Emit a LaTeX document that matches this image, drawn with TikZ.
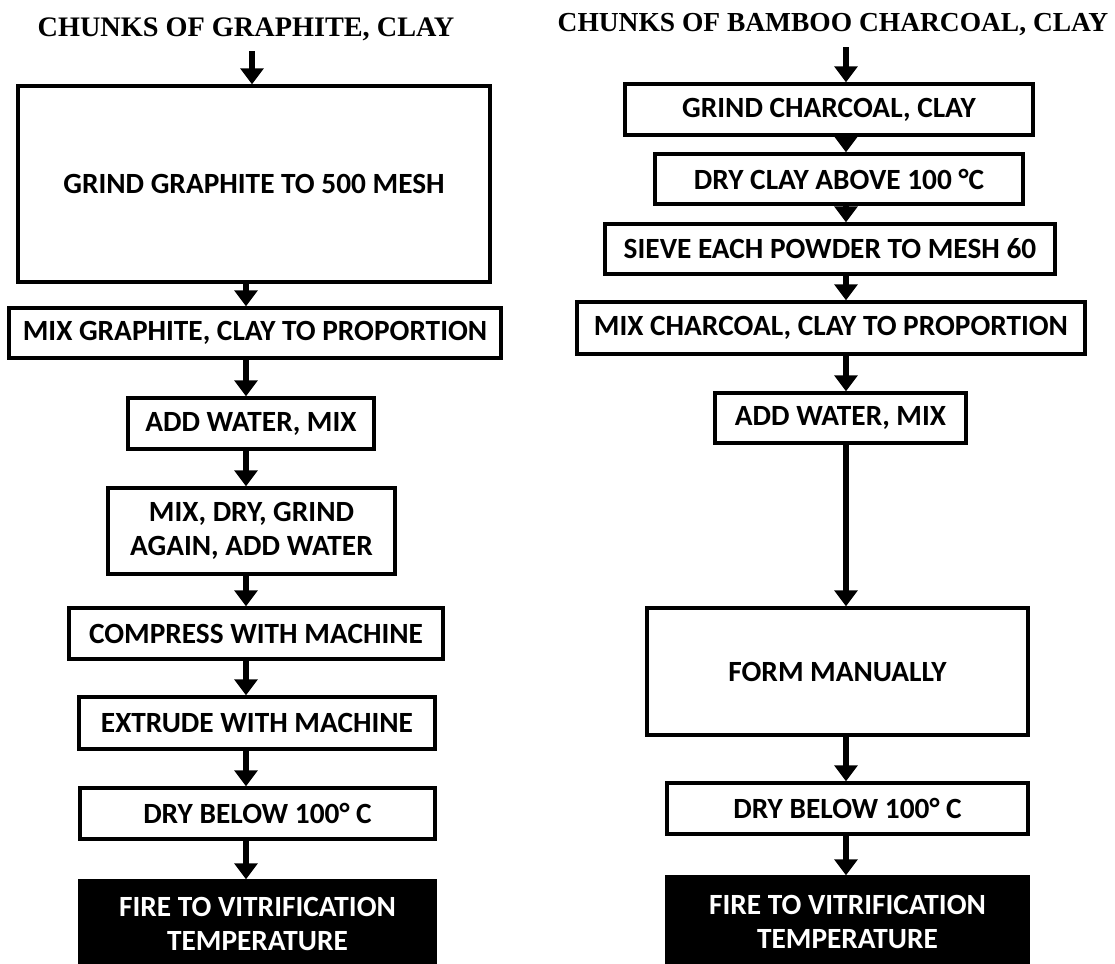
\documentclass[tikz,border=0pt]{standalone}
\usepackage{fontspec}
\setmainfont{Carlito}
\newfontfamily\titlefont{Liberation Serif}
\usetikzlibrary{arrows.meta}
\tikzset{
  box/.style={draw=black, line width=2.5pt, fill=white, inner sep=0pt, align=center,
    font=\bfseries\fontsize{22}{26}\selectfont},
  firebox/.style={box, fill=black, text=white},
  ttl/.style={inner sep=0pt, font=\titlefont\bfseries\fontsize{21.2}{24}\selectfont},
  ttlr/.style={ttl, font=\titlefont\bfseries\fontsize{20.6}{24}\selectfont},
  arr/.style={line width=4.2pt, -{Triangle[width=17pt,length=12pt]}},
}
\begin{document}
\begin{tikzpicture}[x=0.75pt,y=-0.75pt]
\useasboundingbox (0,0) rectangle (1115,964);
\clip (0,0) rectangle (1115,964);
\fill[white] (0,0) rectangle (1115,964);
% column axes
\coordinate (LX0) at (252,0);
\coordinate (LX) at (246,0);
\coordinate (RX) at (846,0);
% left column
\node[ttl] (T1) at (246,29) {CHUNKS OF GRAPHITE, CLAY};
\node[box, minimum width=354pt, minimum height=147pt] (A1) at (254,184) {GRIND GRAPHITE TO 500 MESH};
\node[box, minimum width=369pt, minimum height=37.5pt] (A2) at (255,333) {MIX GRAPHITE, CLAY TO PROPORTION};
\node[box, minimum width=184.5pt, minimum height=38.25pt] (A3) at (251,423.5) {ADD WATER, MIX};
\node[box, minimum width=215.25pt, minimum height=64.5pt] (A4) at (251.5,531) {MIX, DRY, GRIND\\AGAIN, ADD WATER};
\node[box, minimum width=280.5pt, minimum height=38.25pt] (A5) at (256,633.5) {COMPRESS WITH MACHINE};
\node[box, minimum width=267pt, minimum height=39pt] (A6) at (257,723) {EXTRUDE WITH MACHINE};
\node[box, minimum width=266.25pt, minimum height=38.25pt] (A7) at (257.5,813.5) {DRY BELOW 100° C};
\node[firebox, minimum width=266.25pt, minimum height=64.5pt] (A8) at (257.5,924) {FIRE TO VITRIFICATION\\TEMPERATURE};
% right column
\node[ttlr] (T2) at (833,25) {CHUNKS OF BAMBOO CHARCOAL, CLAY};
\node[box, minimum width=306pt, minimum height=38.25pt] (B1) at (829,109.5) {GRIND CHARCOAL, CLAY};
\node[box, minimum width=276pt, minimum height=37.5pt] (B2) at (839,179) {DRY CLAY ABOVE 100 °C};
\node[box, minimum width=337.5pt, minimum height=37.5pt] (B3) at (830,249) {SIEVE EACH POWDER TO MESH 60};
\node[box, minimum width=381pt, minimum height=39pt] (B4) at (831,328) {MIX CHARCOAL, CLAY TO PROPORTION};
\node[box, minimum width=188.25pt, minimum height=37.5pt] (B5) at (840.5,418) {ADD WATER, MIX};
\node[box, minimum width=285.75pt, minimum height=95.25pt] (B6) at (837.5,671.5) {FORM MANUALLY};
\node[box, minimum width=270.75pt, minimum height=38.25pt] (B7) at (847.5,808.5) {DRY BELOW 100° C};
\node[firebox, minimum width=270.75pt, minimum height=67.5pt] (B8) at (847.5,922) {FIRE TO VITRIFICATION\\TEMPERATURE};
% left arrows
\draw[arr, shorten <=8pt] (T1.south -| LX0) -- (A1.north -| LX0);
\draw[arr] (A1.south -| LX) -- (A2.north -| LX);
\draw[arr] (A2.south -| LX) -- (A3.north -| LX);
\draw[arr] (A3.south -| LX) -- (A4.north -| LX);
\draw[arr] (A4.south -| LX) -- (A5.north -| LX);
\draw[arr] (A5.south -| LX) -- (A6.north -| LX);
\draw[arr] (A6.south -| LX) -- (A7.north -| LX);
\draw[arr] (A7.south -| LX) -- (A8.north -| LX);
% right arrows
\draw[arr, shorten <=8pt] (T2.south -| RX) -- (B1.north -| RX);
\draw[arr] (B1.south -| RX) -- (B2.north -| RX);
\draw[arr] (B2.south -| RX) -- (B3.north -| RX);
\draw[arr] (B3.south -| RX) -- (B4.north -| RX);
\draw[arr] (B4.south -| RX) -- (B5.north -| RX);
\draw[arr] (B5.south -| RX) -- (B6.north -| RX);
\draw[arr] (B6.south -| RX) -- (B7.north -| RX);
\draw[arr] (B7.south -| RX) -- (B8.north -| RX);
\end{tikzpicture}
\end{document}
